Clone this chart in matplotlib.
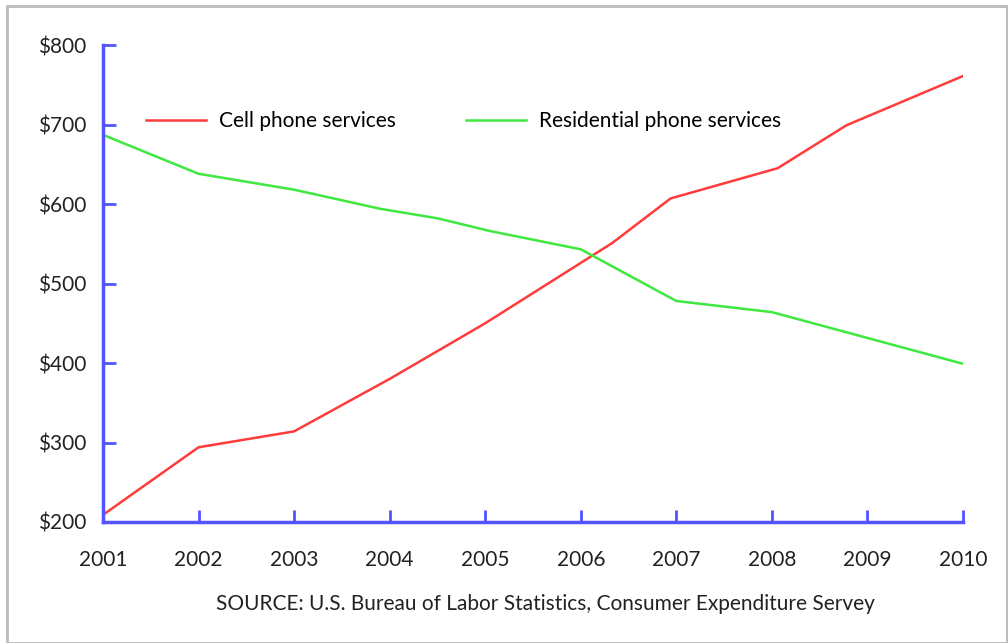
import matplotlib.pyplot as plt
from matplotlib.patches import Rectangle

plt.rcParams['font.family'] = ['Lato', 'DejaVu Sans']

# values
cell_years = [2001, 2002, 2003, 2004, 2005, 2006.33, 2006.94, 2008.06, 2008.78, 2010]
cell_cost = [209, 294, 314, 380, 450, 551, 607, 645, 699, 761]

res_years = [2001, 2002, 2003, 2003.9, 2004.5, 2005.05, 2006, 2007, 2008, 2010]
res_cost = [687, 638, 618, 594, 582, 566, 543, 478, 464, 399]

years = list(range(2001, 2011))
y_ticks = [200, 300, 400, 500, 600, 700, 800]
y_labels = ['$%d' % v for v in y_ticks]

blue = '#5353ff'
fs = 15

fig = plt.figure(figsize=(10.08, 6.43), dpi=100)
ax = fig.add_axes([103 / 1008, 1 - 522 / 643, 860 / 1008, 477 / 643])

ax.plot(cell_years, cell_cost, color='#ff3b3b', lw=1.8, label='Cell phone services')
ax.plot(res_years, res_cost, color='#3ee83e', lw=1.8, label='Residential phone services')

ax.set_xlim(2001, 2010)
ax.set_ylim(200, 800)
ax.set_xticks(years)
ax.set_xticklabels([str(y) for y in years])
ax.set_yticks(y_ticks)
ax.set_yticklabels(y_labels)

for s in ['top', 'right']:
    ax.spines[s].set_visible(False)
for s in ['left', 'bottom']:
    ax.spines[s].set_color(blue)
    ax.spines[s].set_linewidth(2.5)
ax.tick_params(direction='in', color=blue, width=2, length=9, labelsize=fs,
               labelcolor='#222222')
ax.tick_params(axis='x', pad=20)
ax.tick_params(axis='y', pad=12)

ax.legend(loc='upper left', bbox_to_anchor=(0.0497, 0.8615), ncol=2, frameon=False,
          fontsize=fs, handlelength=2.9, handletextpad=0.63, columnspacing=3.35,
          borderpad=0, borderaxespad=0)

fig.text(545 / 1008, 1 - 604 / 643, 'SOURCE: U.S. Bureau of Labor Statistics, Consumer Expenditure Servey',
         ha='center', va='center', fontsize=fs, color='#222222')

fig.patches.append(Rectangle((7 / 1008, 0), 1 - 8 / 1008, 1 - 6 / 643, transform=fig.transFigure,
                             fill=False, edgecolor='#bbbbbb', lw=2))

fig.savefig('out.png', dpi=100)
